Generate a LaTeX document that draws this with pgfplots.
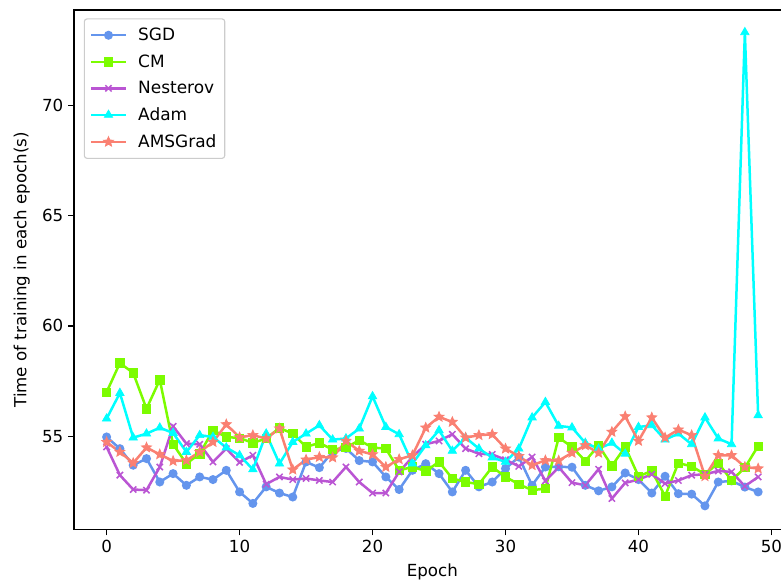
\documentclass[border=0pt]{standalone}
\usepackage{fontspec}
\setmainfont{DejaVu Sans}
\usepackage{pgfplots}
\usepackage{pgfplotstable}
\pgfplotsset{compat=1.18}

\definecolor{sgdc}{HTML}{6495ED}
\definecolor{cmc}{HTML}{7CFC00}
\definecolor{nesc}{HTML}{BA55D3}
\definecolor{adamc}{HTML}{00FFFF}
\definecolor{amsc}{HTML}{FA8072}

% filled five-point star
\pgfdeclareplotmark{fstar}{%
  \pgfpathmoveto{\pgfpointpolar{90}{\pgfplotmarksize}}%
  \pgfpathlineto{\pgfpointpolar{126}{0.45\pgfplotmarksize}}%
  \pgfpathlineto{\pgfpointpolar{162}{\pgfplotmarksize}}%
  \pgfpathlineto{\pgfpointpolar{198}{0.45\pgfplotmarksize}}%
  \pgfpathlineto{\pgfpointpolar{234}{\pgfplotmarksize}}%
  \pgfpathlineto{\pgfpointpolar{270}{0.45\pgfplotmarksize}}%
  \pgfpathlineto{\pgfpointpolar{306}{\pgfplotmarksize}}%
  \pgfpathlineto{\pgfpointpolar{342}{0.45\pgfplotmarksize}}%
  \pgfpathlineto{\pgfpointpolar{18}{\pgfplotmarksize}}%
  \pgfpathlineto{\pgfpointpolar{54}{0.45\pgfplotmarksize}}%
  \pgfpathclose
  \pgfusepathqfillstroke
}

\pgfplotstableread{
ep  sgd   cm    nes   adam  ams
0   54.97 57.00 54.52 55.80 54.74
1   54.44 58.32 53.24 56.96 54.29
2   53.69 57.87 52.59 54.94 53.79
3   53.99 56.25 52.56 55.12 54.49
4   52.93 57.56 53.61 55.39 54.18
5   53.31 54.64 55.45 55.15 53.88
6   52.78 53.76 54.67 54.29 53.91
7   53.16 54.21 54.64 55.05 54.29
8   53.04 55.27 53.84 54.97 54.74
9   53.46 54.97 54.44 54.49 55.54
10  52.48 54.92 53.82 54.14 54.95
11  51.96 54.70 54.14 53.50 55.05
12  52.71 54.90 52.83 55.12 54.90
13  52.43 55.38 53.16 53.76 55.35
14  52.25 55.12 53.04 54.74 53.49
15  53.84 54.52 53.09 55.12 53.94
16  53.58 54.70 53.00 55.50 54.06
17  54.30 54.40 52.93 54.85 54.04
18  54.45 54.49 53.61 54.90 54.79
19  53.90 54.82 52.93 55.35 54.34
20  53.84 54.49 52.43 56.81 54.18
21  53.16 54.44 52.43 55.42 53.61
22  52.59 53.46 53.39 55.09 53.96
23  53.46 53.61 54.06 53.76 54.14
24  53.76 53.43 54.64 54.59 55.39
25  53.31 53.84 54.79 55.27 55.88
26  52.48 53.09 55.09 54.34 55.65
27  53.46 52.93 54.44 54.94 54.94
28  52.71 52.83 54.21 54.44 55.05
29  52.93 53.61 54.18 54.04 55.09
30  53.54 53.16 53.94 53.84 54.44
31  54.06 52.83 53.64 54.44 54.10
32  52.78 52.56 54.06 55.85 53.69
33  53.61 52.63 52.98 56.55 53.91
34  53.62 54.94 53.60 55.47 53.90
35  53.60 54.52 52.90 55.40 54.25
36  52.78 53.88 52.78 54.70 54.59
37  52.53 54.59 53.51 54.44 54.25
38  52.71 53.66 52.18 54.70 55.20
39  53.34 54.52 52.89 54.21 55.90
40  53.04 53.19 53.04 55.42 54.79
41  52.43 53.43 53.28 55.50 55.85
42  53.19 52.29 52.86 54.85 54.94
43  52.40 53.79 53.00 55.12 55.30
44  52.38 53.64 53.24 54.64 55.05
45  51.85 53.28 53.28 55.85 53.19
46  52.93 53.79 53.43 54.90 54.14
47  52.98 53.00 53.39 54.64 54.14
48  52.70 53.58 52.74 73.30 53.61
49  52.48 54.56 53.16 55.95 53.54
}\timing

\begin{document}
\begin{tikzpicture}
\begin{axis}[
    scale only axis, width=516pt, height=374pt,
    xmin=-2.45, xmax=51.45, ymin=50.78, ymax=74.31,
    xtick={0,10,...,50}, ytick={55,60,65,70},
    tick pos=left, tick align=outside, major tick length=4.2pt,
    tick style={black, line width=0.9pt},
    axis line style={line width=0.9pt},
    /pgf/number format/assume math mode=true,
    ticklabel style={font=\fontsize{12}{14}\selectfont},
    label style={font=\fontsize{12}{14}\selectfont},
    xlabel={Epoch}, ylabel={Time of training in each epoch(s)},
    xlabel shift=1pt, ylabel shift=2pt,
    legend cell align=left,
    legend image code/.code={%
        \draw[mark repeat=2, mark phase=2, #1]
            plot coordinates {(0pt,0pt) (12.5pt,0pt) (25pt,0pt)};},
    legend style={at={(rel axis cs:0.0136,0.984)}, anchor=north west,
        draw=black!20, rounded corners=2pt, line width=0.8pt,
        font=\fontsize{12.2}{14}\selectfont, row sep=4.6pt,
        inner xsep=4pt, inner ysep=4.5pt,
        /tikz/every odd column/.append style={column sep=6pt}},
    every axis plot/.append style={line width=1.8pt},
]
\addplot[sgdc, mark=*, mark size=2.3pt] table[x=ep, y=sgd] {\timing};
\addlegendentry{SGD}
\addplot[cmc, mark=square*, mark size=3pt, mark options={line width=0.5pt}] table[x=ep, y=cm] {\timing};
\addlegendentry{CM}
\addplot[nesc, mark=x, mark size=3.2pt, mark options={line width=1.1pt}] table[x=ep, y=nes] {\timing};
\addlegendentry{Nesterov}
\addplot[adamc, mark=triangle*, mark size=3.5pt, mark options={line width=0.5pt}] table[x=ep, y=adam] {\timing};
\addlegendentry{Adam}
\addplot[amsc, mark=fstar, mark size=3.8pt, mark options={line width=0.5pt}] table[x=ep, y=ams] {\timing};
\addlegendentry{AMSGrad}
\end{axis}
\pgfresetboundingbox
\path[use as bounding box] ([xshift=-53.3pt,yshift=-40.3pt]current axis.south west)
    rectangle ([xshift=509pt,yshift=7.2pt]current axis.north west);
\end{tikzpicture}
\end{document}
